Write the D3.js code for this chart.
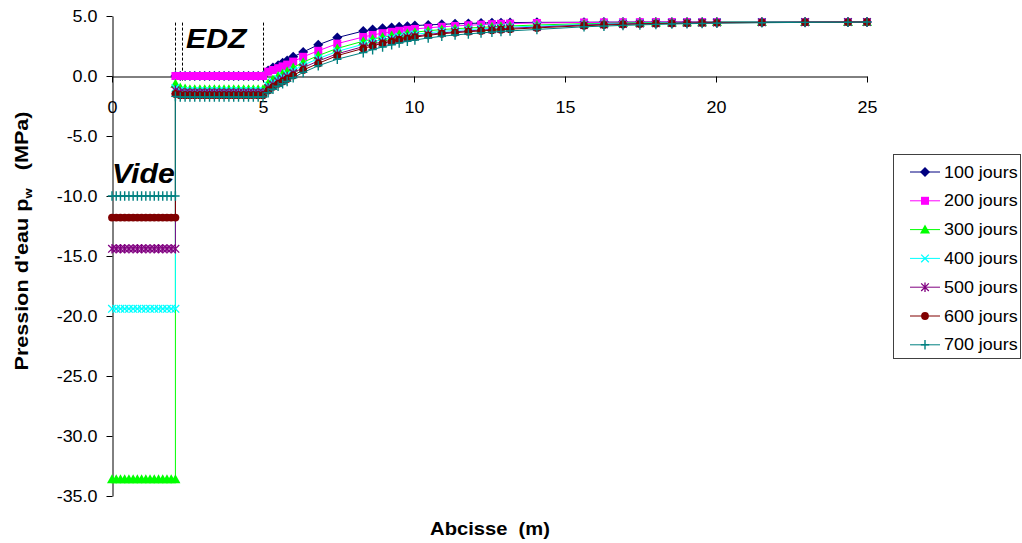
<!DOCTYPE html>
<html>
<head>
<meta charset="utf-8">
<script src="https://cdn.jsdelivr.net/npm/d3@7"></script>
<style>
  html, body { margin: 0; padding: 0; background: #fff; }
  svg { display: block; font-family: "Liberation Sans", Arial, sans-serif; }
</style>
</head>
<body>
<svg id="chart" width="1022" height="543"></svg>
<script>
// Abscissa nodes (m): void zone, EDZ, and surrounding rock
const xVide = [0, 0.14, 0.28, 0.42, 0.56, 0.7, 0.84, 0.98, 1.12, 1.26, 1.4, 1.54, 1.68, 1.82, 1.96, 2.1];
const xEdz = [2.1, 2.26, 2.42, 2.58, 2.74, 2.91, 3.07, 3.23, 3.39, 3.55, 3.71, 3.87, 4.03, 4.19, 4.36, 4.52, 4.68, 4.84, 5.0];
const xRock = [5.17, 5.33, 5.5, 5.65, 5.8, 6.0, 6.33, 6.83, 7.46, 8.32, 8.63, 8.96, 9.26, 9.51, 9.78, 10.03,
  10.47, 10.92, 11.36, 11.8, 12.22, 12.58, 12.88, 13.18, 14.07, 15.63, 16.29, 16.92, 17.48, 18.01, 18.54,
  19.04, 19.54, 20.03, 21.52, 22.95, 24.37, 25.0];

// Series names (days)
const seriesNames = ["100 jours", "200 jours", "300 jours", "400 jours", "500 jours", "600 jours", "700 jours"];

// Water pressure in the void (MPa); the first two dates have no values there
const vide100 = [];
const vide200 = [];
const vide300 = [-33.6, -33.6, -33.6, -33.6, -33.6, -33.6, -33.6, -33.6, -33.6, -33.6, -33.6, -33.6, -33.6, -33.6, -33.6, -33.6];
const vide400 = [-19.4, -19.4, -19.4, -19.4, -19.4, -19.4, -19.4, -19.4, -19.4, -19.4, -19.4, -19.4, -19.4, -19.4, -19.4, -19.4];
const vide500 = [-14.4, -14.4, -14.4, -14.4, -14.4, -14.4, -14.4, -14.4, -14.4, -14.4, -14.4, -14.4, -14.4, -14.4, -14.4, -14.4];
const vide600 = [-11.8, -11.8, -11.8, -11.8, -11.8, -11.8, -11.8, -11.8, -11.8, -11.8, -11.8, -11.8, -11.8, -11.8, -11.8, -11.8];
const vide700 = [-10.0, -10.0, -10.0, -10.0, -10.0, -10.0, -10.0, -10.0, -10.0, -10.0, -10.0, -10.0, -10.0, -10.0, -10.0, -10.0];

// Water pressure in the EDZ (MPa)
const edz100 = [0, 0, 0, 0, 0, 0, 0, 0, 0, 0, 0, 0, 0, 0, 0, 0, 0, 0, 0];
const edz200 = [0, 0, 0, 0, 0, 0, 0, 0, 0, 0, 0, 0, 0, 0, 0, 0, 0, 0, 0];
const edz300 = [-0.65, -0.95, -1.05, -1.1, -1.1, -1.1, -1.1, -1.1, -1.1, -1.1, -1.1, -1.1, -1.1, -1.1, -1.1, -1.1, -1.1, -1.1, -1.1];
const edz400 = [-1.0, -1.2, -1.25, -1.25, -1.25, -1.25, -1.25, -1.25, -1.25, -1.25, -1.25, -1.25, -1.25, -1.25, -1.25, -1.25, -1.25, -1.25, -1.25];
const edz500 = [-1.2, -1.35, -1.4, -1.4, -1.4, -1.4, -1.4, -1.4, -1.4, -1.4, -1.4, -1.4, -1.4, -1.4, -1.4, -1.4, -1.4, -1.4, -1.4];
const edz600 = [-1.5, -1.6, -1.6, -1.6, -1.6, -1.6, -1.6, -1.6, -1.6, -1.6, -1.6, -1.6, -1.6, -1.6, -1.6, -1.6, -1.6, -1.6, -1.6];
const edz700 = [-1.7, -1.75, -1.75, -1.75, -1.75, -1.75, -1.75, -1.75, -1.75, -1.75, -1.75, -1.75, -1.75, -1.75, -1.75, -1.75, -1.75, -1.75, -1.75];

// Water pressure in the rock beyond the EDZ (MPa)
const rock100 = [0.45, 0.7, 0.9, 1.1, 1.3, 1.6, 2.0, 2.6, 3.2, 3.75, 3.87, 3.97, 4.05, 4.1, 4.15, 4.2, 4.26, 4.31, 4.35, 4.38,
  4.41, 4.43, 4.44, 4.45, 4.47, 4.48, 4.49, 4.49, 4.5, 4.5, 4.5, 4.5, 4.5, 4.5, 4.5, 4.5, 4.5, 4.5];
const rock200 = [0.36, 0.5, 0.65, 0.8, 0.95, 1.2, 1.6, 2.1, 2.7, 3.25, 3.42, 3.57, 3.68, 3.77, 3.85, 3.92, 4.02, 4.1, 4.17, 4.23,
  4.28, 4.32, 4.35, 4.37, 4.42, 4.46, 4.47, 4.48, 4.49, 4.5, 4.5, 4.5, 4.5, 4.5, 4.5, 4.5, 4.5, 4.5];
const rock300 = [-0.6, -0.3, 0.0, 0.2, 0.4, 0.7, 1.15, 1.7, 2.3, 2.9, 3.08, 3.24, 3.37, 3.47, 3.57, 3.65, 3.77, 3.87, 3.94, 4.0,
  4.05, 4.1, 4.14, 4.17, 4.25, 4.36, 4.39, 4.42, 4.44, 4.45, 4.46, 4.47, 4.48, 4.49, 4.5, 4.5, 4.5, 4.5];
const rock400 = [-0.8, -0.5, -0.25, -0.05, 0.15, 0.45, 0.9, 1.45, 2.05, 2.65, 2.85, 3.02, 3.16, 3.27, 3.38, 3.47, 3.6, 3.72, 3.8, 3.87,
  3.93, 3.98, 4.03, 4.07, 4.16, 4.3, 4.34, 4.38, 4.4, 4.42, 4.44, 4.45, 4.46, 4.47, 4.49, 4.5, 4.5, 4.5];
const rock500 = [-1.0, -0.7, -0.45, -0.25, -0.05, 0.25, 0.7, 1.25, 1.85, 2.45, 2.66, 2.84, 2.99, 3.11, 3.22, 3.32, 3.46, 3.59, 3.68, 3.76,
  3.83, 3.89, 3.94, 3.98, 4.08, 4.25, 4.3, 4.34, 4.37, 4.39, 4.41, 4.43, 4.44, 4.45, 4.48, 4.49, 4.5, 4.5];
const rock600 = [-1.2, -0.9, -0.65, -0.45, -0.25, 0.05, 0.5, 1.05, 1.7, 2.3, 2.52, 2.72, 2.89, 3.02, 3.14, 3.24, 3.39, 3.52, 3.61, 3.69,
  3.76, 3.81, 3.86, 3.9, 4.01, 4.19, 4.25, 4.3, 4.33, 4.36, 4.38, 4.4, 4.42, 4.43, 4.46, 4.48, 4.49, 4.5];
const rock700 = [-1.4, -1.1, -0.85, -0.65, -0.45, -0.15, 0.3, 0.85, 1.4, 1.95, 2.2, 2.42, 2.6, 2.75, 2.89, 3.0, 3.17, 3.31, 3.42, 3.51,
  3.59, 3.66, 3.71, 3.76, 3.88, 4.1, 4.16, 4.22, 4.26, 4.3, 4.33, 4.36, 4.38, 4.4, 4.44, 4.47, 4.48, 4.5];

// Axis ticks and zone boundaries
const xTicks = [0, 5, 10, 15, 20, 25];
const yTicks = [5, 0, -5, -10, -15, -20, -25, -30, -35];
const zoneBounds = [2.1, 2.31, 5.0];

const colors = ["#000080", "#FF00FF", "#00FF00", "#00FFFF", "#800080", "#800000", "#008080"];
const markerKinds = ["diamond", "square", "triangle", "x", "star", "circle", "plus"];

const videSets = [vide100, vide200, vide300, vide400, vide500, vide600, vide700];
const edzSets = [edz100, edz200, edz300, edz400, edz500, edz600, edz700];
const rockSets = [rock100, rock200, rock300, rock400, rock500, rock600, rock700];

const series = seriesNames.map((name, i) => {
  const pts = [];
  videSets[i].forEach((v, k) => pts.push([xVide[k], v]));
  edzSets[i].forEach((v, k) => pts.push([xEdz[k], v]));
  rockSets[i].forEach((v, k) => pts.push([xRock[k], v]));
  return { name, color: colors[i], marker: markerKinds[i], points: pts };
});

const SX = 1.12; // horizontal text stretch

const svg = d3.select("#chart");
const x = d3.scaleLinear().domain([0, 25]).range([112, 867]);
const y = d3.scaleLinear().domain([-35, 5]).range([496, 16]);

// Y axis
const yAxis = svg.append("g")
  .attr("transform", `translate(${x(0) + 0.5},0)`)
  .call(d3.axisLeft(y).tickValues(yTicks).tickSize(6).tickSizeOuter(0).tickFormat(d => d.toFixed(1)));
yAxis.select(".domain").attr("stroke", "#000");
yAxis.selectAll(".tick line").attr("stroke", "#000");
yAxis.selectAll(".tick text")
  .attr("font-size", 16).attr("font-family", "Liberation Sans, Arial, sans-serif")
  .attr("fill", "#000")
  .attr("x", -15 / SX).attr("transform", `scale(${SX},1)`);

// X axis along p = 0
const xAxis = svg.append("g")
  .attr("transform", `translate(0,${y(0) + 0.5})`)
  .call(d3.axisBottom(x).tickValues(xTicks).tickSize(6).tickSizeOuter(0).tickFormat(d3.format("d")));
xAxis.select(".domain").attr("stroke", "#000");
xAxis.selectAll(".tick line").attr("stroke", "#000");
xAxis.selectAll(".tick text")
  .attr("font-size", 16).attr("font-family", "Liberation Sans, Arial, sans-serif")
  .attr("fill", "#000")
  .attr("y", 25).attr("transform", `scale(${SX},1)`);

// Dashed zone boundaries
svg.append("g").selectAll("line").data(zoneBounds).join("line")
  .attr("x1", d => Math.round(x(d)) + 0.5).attr("x2", d => Math.round(x(d)) + 0.5)
  .attr("y1", y(4.45)).attr("y2", y(-0.5))
  .attr("stroke", "#000").attr("stroke-width", 1).attr("stroke-dasharray", "3,2");

// Marker drawing
function marker(sel, kind, color) {
  if (kind === "circle") {
    sel.append("circle").attr("r", 3.9).attr("fill", color);
  } else if (kind === "square") {
    sel.append("rect").attr("x", -4).attr("y", -4).attr("width", 8).attr("height", 8).attr("fill", color);
  } else if (kind === "diamond") {
    sel.append("path").attr("d", "M0,-5L5,0L0,5L-5,0Z").attr("fill", color);
  } else if (kind === "triangle") {
    sel.append("path").attr("d", "M0,-5L5,4L-5,4Z").attr("fill", color);
  } else if (kind === "x") {
    sel.append("path").attr("d", "M-3.8,-3.8L3.8,3.8M-3.8,3.8L3.8,-3.8").attr("stroke", color).attr("stroke-width", 1.3).attr("fill", "none");
  } else if (kind === "star") {
    sel.append("path").attr("d", "M-3.8,-3.8L3.8,3.8M-3.8,3.8L3.8,-3.8M0,-4.8L0,4.8").attr("stroke", color).attr("stroke-width", 1.3).attr("fill", "none");
  } else if (kind === "plus") {
    sel.append("path").attr("d", "M-4.2,0L4.2,0M0,-4.8L0,4.8").attr("stroke", color).attr("stroke-width", 1.4).attr("fill", "none");
  }
}

const line = d3.line().x(d => x(d[0])).y(d => y(d[1]));
const plot = svg.append("g");
series.forEach(s => {
  const g = plot.append("g");
  g.append("path").attr("d", line(s.points)).attr("fill", "none").attr("stroke", s.color).attr("stroke-width", 1);
  g.selectAll("g.m").data(s.points).join("g").attr("class", "m")
    .attr("transform", d => `translate(${x(d[0])},${y(d[1])})`)
    .each(function () { marker(d3.select(this), s.marker, s.color); });
});

// Zone labels
function stretchedText(px, py, txt, sx = SX) {
  return svg.append("text").attr("transform", `translate(${px},${py}) scale(${sx},1)`).text(txt);
}
stretchedText(186, 48, "EDZ").attr("font-size", 27).attr("font-weight", "bold").attr("font-style", "italic");
stretchedText(112, 183, "Vide").attr("font-size", 27).attr("font-weight", "bold").attr("font-style", "italic");

// Axis titles
stretchedText(490, 535, "Abcisse\u00a0\u00a0(m)").attr("font-size", 18).attr("font-weight", "bold").attr("text-anchor", "middle");
const yt = svg.append("text")
  .attr("transform", `translate(28,241) rotate(-90) scale(1.2,1)`)
  .attr("font-size", 18).attr("font-weight", "bold").attr("text-anchor", "middle");
yt.append("tspan").text("Pression d'eau p");
yt.append("tspan").attr("font-size", 11).attr("dy", 4).text("w");
yt.append("tspan").attr("dy", -4).text("\u00a0\u00a0\u00a0(MPa)");

// Legend
const lg = svg.append("g");
lg.append("rect").attr("x", 893.5).attr("y", 154.5).attr("width", 127).attr("height", 204)
  .attr("fill", "#fff").attr("stroke", "#404040").attr("stroke-width", 1);
series.forEach((s, i) => {
  const cy = 172 + i * 28.8;
  const row = lg.append("g").attr("transform", `translate(0,${cy})`);
  row.append("line").attr("x1", 910).attr("x2", 940).attr("y1", 0).attr("y2", 0).attr("stroke", s.color).attr("stroke-width", 1);
  marker(row.append("g").attr("transform", "translate(925,0)"), s.marker, s.color);
  row.append("text").attr("transform", `translate(944,0) scale(${SX},1)`).attr("dy", "0.35em")
    .attr("font-size", 16).text(s.name);
});
</script>
</body>
</html>
